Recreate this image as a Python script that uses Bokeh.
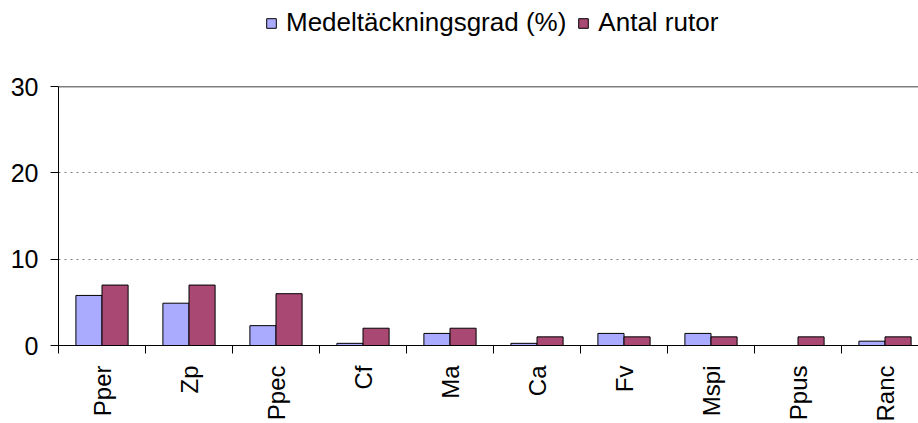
from bokeh.plotting import figure
from bokeh.models import (ColumnDataSource, Range1d, FixedTicker, Legend, LegendItem, Span,
                          CustomJSTickFormatter)
from bokeh.layouts import column
from bokeh.transform import dodge
from bokeh.embed import file_html
from bokeh.resources import INLINE
from math import pi

# ---- data ----
species = ["Pper", "Zp", "Ppec", "Cf", "Ma", "Ca", "Fv", "Mspi", "Ppus", "Ranc"]
cover_pct = [5.8, 4.9, 2.3, 0.25, 1.4, 0.25, 1.4, 1.4, 0.0, 0.5]
n_squares = [7, 7, 6, 2, 2, 1, 1, 1, 1, 1]
y_ticks = [0, 10, 20, 30]
series_names = ["Medeltäckningsgrad (%)", "Antal rutor"]

FONT = "Liberation Sans"
BLUE = "#AAAAFF"
RED = "#A94872"

centers = [i + 0.5 for i in range(len(species))]
bounds = [float(i) for i in range(len(species) + 1)]

src = ColumnDataSource(dict(x=centers, cover=cover_pct, count=n_squares, name=species))

# ---- legend strip (top): same bars, drawn outside its visible range ----
LEG_H = 50
top = figure(width=918, height=LEG_H, output_backend="svg", toolbar_location=None,
             x_axis_location=None, y_axis_location=None,
             x_range=Range1d(0, 9.885), y_range=Range1d(100, 101), min_border=0)
top.grid.visible = False
top.outline_line_color = None
l1 = top.vbar(x=dodge("x", -0.15), top="cover", width=0.3, source=src,
              fill_color=BLUE, line_color="black", line_width=1)
l2 = top.vbar(x=dodge("x", 0.15), top="count", width=0.3, source=src,
              fill_color=RED, line_color="black", line_width=1)
legend = Legend(items=[LegendItem(label=series_names[0], renderers=[l1]),
                       LegendItem(label=series_names[1], renderers=[l2])],
                orientation="horizontal", location=(207, 12),
                glyph_width=12, glyph_height=12, label_standoff=9, spacing=11,
                padding=0, margin=0, border_line_color=None, background_fill_alpha=0,
                label_text_font=FONT, label_text_font_size="26px", label_text_color="black")
top.add_layout(legend, "center")

# ---- main chart ----
p = figure(frame_width=860, frame_height=259, output_backend="svg", toolbar_location=None,
           x_range=Range1d(0, 9.885), y_range=Range1d(y_ticks[0], y_ticks[-1]),
           min_border_left=58, min_border_right=0, min_border_top=86 - LEG_H,
           min_border_bottom=78)
p.outline_line_color = None
p.background_fill_color = "white"
p.border_fill_color = "white"

r1 = p.vbar(x=dodge("x", -0.15), top="cover", width=0.3, source=src,
            fill_color=BLUE, line_color="black", line_width=1)
r2 = p.vbar(x=dodge("x", 0.15), top="count", width=0.3, source=src,
            fill_color=RED, line_color="black", line_width=1)

xax = p.xaxis[0]
xax.ticker = FixedTicker(ticks=centers, minor_ticks=bounds)
xax.formatter = CustomJSTickFormatter(args=dict(names=species),
                                      code="return names[Math.floor(tick)] || '';")
xax.major_label_orientation = pi / 2
xax.major_tick_out = 0
xax.major_tick_in = 0
xax.minor_tick_out = 8
xax.minor_tick_in = 0
xax.minor_tick_line_color = "black"
xax.axis_line_color = "black"
xax.major_label_standoff = 12
xax.axis_label_standoff = 0
xax.major_label_text_font = FONT
xax.major_label_text_font_size = "24px"
xax.major_label_text_color = "black"

yax = p.yaxis[0]
yax.ticker = FixedTicker(ticks=y_ticks)
yax.major_tick_out = 8
yax.major_tick_in = 0
yax.minor_tick_line_color = None
yax.axis_line_color = "black"
yax.major_tick_line_color = "black"
yax.major_label_standoff = 12
yax.major_label_text_font = FONT
yax.major_label_text_font_size = "25px"
yax.major_label_text_color = "black"

p.xgrid.grid_line_color = None
p.ygrid.grid_line_color = "#808080"
p.ygrid.grid_line_dash = "2 4"
p.ygrid.grid_line_width = 1

top_line = Span(location=y_ticks[-1], dimension="width", line_color="black", line_width=1.5)
p.add_layout(top_line)

layout = column(top, p, spacing=0)
open("out.html", "w").write(file_html(layout, INLINE))
